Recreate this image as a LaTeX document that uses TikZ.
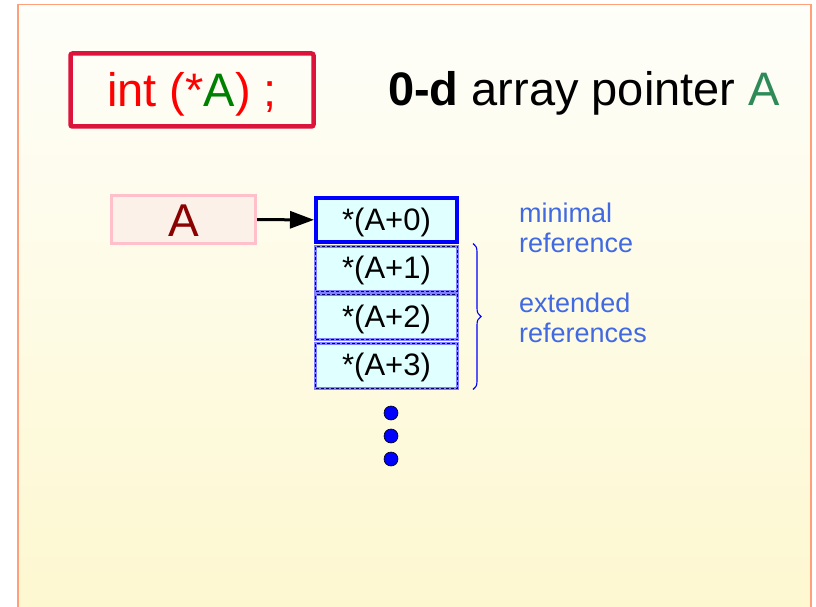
\documentclass[tikz,border=0pt]{standalone}
\usepackage{fontspec}
\setmainfont{Liberation Sans}
\usetikzlibrary{arrows.meta, calc, decorations.pathreplacing}

\definecolor{slideedge}{HTML}{FFA07A}
\definecolor{slidetop}{HTML}{FEFEFA}
\definecolor{slidebot}{HTML}{FDF8D0}
\definecolor{codeedge}{HTML}{DC143C}
\definecolor{codegreen}{HTML}{008000}
\definecolor{titlegreen}{HTML}{2E8B57}
\definecolor{ptrfill}{HTML}{FBF1E8}
\definecolor{ptredge}{HTML}{FFC0CB}
\definecolor{ptrtext}{HTML}{8B0000}
\definecolor{cellfill}{HTML}{E0FFFF}
\definecolor{celledge}{HTML}{8080FF}
\definecolor{notecolor}{HTML}{4169E1}

\begin{document}
\begin{tikzpicture}[x=1pt, y=-1pt,
    codebox/.style={draw=codeedge, line width=4.5pt, rounded corners=2pt,
        minimum width=243pt, minimum height=73pt, inner sep=0pt,
        text height=33pt, text depth=0pt,
        font=\fontsize{47}{56}\selectfont},
    ptrbox/.style={draw=ptredge, fill=ptrfill, line width=3pt,
        minimum width=144pt, minimum height=48pt, inner sep=0pt,
        text height=33pt, text depth=0pt,
        text=ptrtext, font=\fontsize{46}{55}\selectfont},
    firstcell/.style={draw=blue, fill=cellfill, line width=4pt,
        minimum width=141pt, minimum height=44pt, inner sep=0pt,
        text height=20pt, text depth=0pt,
        font=\fontsize{31}{37}\selectfont},
    cell/.style={draw=celledge, fill=cellfill, line width=3pt,
        minimum width=142pt, minimum height=45pt, inner sep=0pt,
        text height=20pt, text depth=0pt,
        font=\fontsize{31}{37}\selectfont,
        postaction={draw=blue!40!black, line width=0.6pt, dash pattern=on 3pt off 2pt}},
    note/.style={align=left, inner sep=0pt, text=notecolor,
        font=\fontsize{27}{30}\selectfont},
    dot/.style={circle, draw=black, fill=blue, line width=0.6pt,
        minimum size=14pt, inner sep=0pt}]

    \useasboundingbox (0, 0) rectangle (816, 607);

    % slide
    \shade[top color=slidetop, bottom color=slidebot] (18, 4.5) rectangle (811, 607);
    \draw[slideedge, line width=1.5pt] (18, 607) -- (18, 4.5) -- (811, 4.5) -- (811, 607);

    \node[codebox] (decl) at (192, 90) {\textcolor{red}{int (*}\textcolor{codegreen}{A}\textcolor{red}{) ;}};
    \node[anchor=base west, inner sep=0pt, font=\fontsize{47}{56}\selectfont] (title) at (388, 106)
        {\textbf{0-d} array pointer \textcolor{titlegreen}{A}};

    \node[ptrbox] (ptrA) at (183.5, 219.5) {A};

    \node[firstcell] (c0) at (386.5, 220) {*(A+0)};
    \node[cell] at ($(c0) + (0, 48.5)$) (c1) {*(A+1)};
    \node[cell] at ($(c1) + (0, 48.5)$) (c2) {*(A+2)};
    \node[cell] at ($(c2) + (0, 48.5)$) (c3) {*(A+3)};

    \draw[line width=3pt, -{Triangle[length=24pt, width=17pt]}] (ptrA) -- (c0);

    \coordinate (btop) at ($(c1.north east) + (14, -1)$);
    \coordinate (bbot) at ($(c3.south east) + (14, 0)$);
    \draw[blue, line width=1.1pt, decorate, decoration={brace, amplitude=8pt}] (btop) -- (bbot);

    \node[note, anchor=base west] (minref) at (519, 252) {minimal\\reference};
    \node[note, anchor=base west] (extref) at (519, 342) {extended\\references};

    \node[dot] (d1) at (391, 413) {};
    \node[dot] (d2) at (391, 436) {};
    \node[dot] (d3) at (391, 459) {};
\end{tikzpicture}
\end{document}
